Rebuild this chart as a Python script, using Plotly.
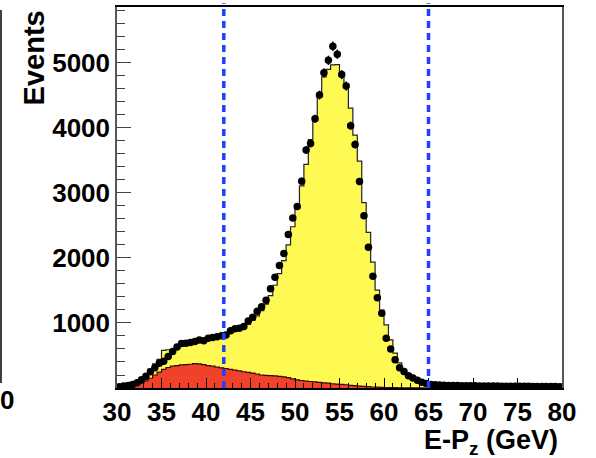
import numpy as np
import plotly.graph_objects as go

# Bins: 100 bins of 0.5 GeV from 30 to 80
x_min, x_max, bin_w = 30.0, 80.0, 0.5

data_counts = [20, 30, 40, 55, 80, 125, 180, 250, 310, 380,
               410, 486, 563, 630, 685, 690, 700, 715, 740, 725,
               765, 775, 790, 802, 817, 880, 910, 920, 945, 1030,
               1090, 1180, 1250, 1350, 1525, 1705, 1885, 2070, 2360, 2615,
               2790, 3180, 3660, 3760, 4140, 4505, 4850, 5040, 5255, 5135,
               4820, 4645, 4035, 3745, 3175, 2650, 2165, 1720, 1390, 1150,
               765, 600, 435, 310, 255, 190, 155, 120, 90, 70,
               55, 50, 45, 42, 40, 40, 38, 36, 35, 34,
               33, 32, 31, 30, 30, 29, 28, 28, 27, 26,
               26, 25, 25, 24, 24, 23, 23, 22, 22, 21]

mc_total = [25, 35, 50, 70, 100, 140, 200, 290, 370, 440,
            580, 588, 590, 610, 640, 665, 690, 705, 720, 735,
            750, 765, 785, 800, 815, 840, 870, 900, 930, 980,
            1040, 1110, 1190, 1290, 1420, 1580, 1760, 1960, 2200, 2480,
            2780, 3110, 3440, 3820, 4175, 4505, 4785, 4900, 4970, 4975,
            4815, 4660, 4305, 3890, 3490, 2850, 2395, 1935, 1505, 1200,
            970, 740, 535, 385, 285, 220, 170, 130, 100, 75,
            55, 40, 30, 22, 16, 12, 9, 7, 5, 4,
            3, 3, 2, 2, 2, 2, 1, 1, 1, 1,
            1, 1, 1, 1, 1, 1, 1, 1, 1, 1]

mc_background = [5, 10, 18, 30, 50, 75, 110, 150, 200, 245,
                 285, 315, 335, 345, 355, 360, 365, 375, 370, 360,
                 345, 335, 320, 310, 300, 285, 275, 262, 250, 240,
                 230, 215, 200, 195, 190, 185, 180, 172, 160, 140,
                 125, 115, 105, 100, 95, 85, 80, 75, 65, 60,
                 55, 50, 40, 35, 30, 25, 20, 15, 12, 10,
                 8, 6, 5, 4, 3, 2, 2, 1, 1, 0,
                 0, 0, 0, 0, 0, 0, 0, 0, 0, 0,
                 0, 0, 0, 0, 0, 0, 0, 0, 0, 0,
                 0, 0, 0, 0, 0, 0, 0, 0, 0, 0]

cut_values = [42.0, 65.0]

x_ticks = [30, 35, 40, 45, 50, 55, 60, 65, 70, 75, 80]
y_ticks = [1000, 2000, 3000, 4000, 5000]

edges = np.arange(x_min, x_max + bin_w / 2, bin_w)
centers = 0.5 * (edges[:-1] + edges[1:])


def step_xy(vals):
    xs = [edges[0]] + list(edges[:-1]) + [edges[-1]]
    ys = [0] + list(vals) + [vals[-1]]
    return xs, ys


fig = go.Figure()

xs, ys = step_xy(mc_total)
fig.add_trace(go.Scatter(x=xs, y=ys, mode="lines", line=dict(shape="hv", color="#222222", width=1.2),
                         fill="tozeroy", fillcolor="#fff953", hoverinfo="skip", showlegend=False))
xs, ys = step_xy(mc_background)
fig.add_trace(go.Scatter(x=xs, y=ys, mode="lines", line=dict(shape="hv", color="#3a0a05", width=1.2),
                         fill="tozeroy", fillcolor="#f0412a", hoverinfo="skip", showlegend=False))

d = np.array(data_counts, dtype=float)
fig.add_trace(go.Scatter(x=centers, y=d, mode="markers",
                         marker=dict(color="black", size=7.5, symbol="circle"),
                         error_y=dict(type="data", array=np.sqrt(d), color="black", thickness=1.5, width=0),
                         showlegend=False))

for cv in cut_values:
    fig.add_shape(type="line", x0=cv, x1=cv, xref="x", yref="paper", y0=0, y1=1.01,
                  line=dict(color="#1f40ff", width=3.5, dash="7px,5px"), layer="above")

# neighbouring-panel remnants at left edge
fig.add_shape(type="line", xref="paper", yref="paper", x0=-0.2607, x1=-0.2607, y0=0.013, y1=0.992,
              line=dict(color="black", width=1.5))
fig.add_annotation(text="0", xref="paper", yref="paper", x=-0.2472, y=-0.031, showarrow=False,
                   xanchor="center", yanchor="middle",
                   font=dict(family="Liberation Sans", size=26, color="black", weight="bold"))

fig.add_annotation(text="Events", xref="paper", yref="paper", x=-0.1865, y=0.995, textangle=-90,
                   showarrow=False, xanchor="center", yanchor="top",
                   font=dict(family="Liberation Sans", size=29, color="black", weight="bold"))
fig.add_annotation(text="E-P<sub>z</sub> (GeV)", xref="paper", yref="paper", x=0.996, y=-0.142,
                   showarrow=False, xanchor="right", yanchor="middle",
                   font=dict(family="Liberation Sans", size=27, color="black", weight="bold"))

tickfont = dict(family="Liberation Sans", size=26, color="black", weight="bold")
fig.update_xaxes(range=[x_min, x_max], tickmode="array", tickvals=x_ticks, ticktext=[str(v) for v in x_ticks],
                 ticks="inside", ticklen=10, tickwidth=1.2, tickcolor="black",
                 minor=dict(tickmode="linear", tick0=30, dtick=1, ticks="inside", ticklen=5, tickcolor="black", tickwidth=1.2),
                 showline=True, linecolor="black", linewidth=1.5, mirror=True,
                 showgrid=False, zeroline=False, tickfont=tickfont)
fig.update_yaxes(range=[0, 5860], tickmode="array", tickvals=y_ticks, ticktext=[str(v) for v in y_ticks],
                 ticks="inside", ticklen=14, tickwidth=1.2, tickcolor="#444444",
                 minor=dict(tickmode="linear", tick0=0, dtick=200, ticks="inside", ticklen=8, tickcolor="#444444", tickwidth=1.2),
                 showline=True, linecolor="#555555", linewidth=1.5, mirror=True,
                 showgrid=False, zeroline=False, tickfont=tickfont)

fig.update_layout(width=596, height=458, margin=dict(l=117, r=34, t=5, b=70),
                  plot_bgcolor="white", paper_bgcolor="white", showlegend=False)

fig.write_html("out.html")
